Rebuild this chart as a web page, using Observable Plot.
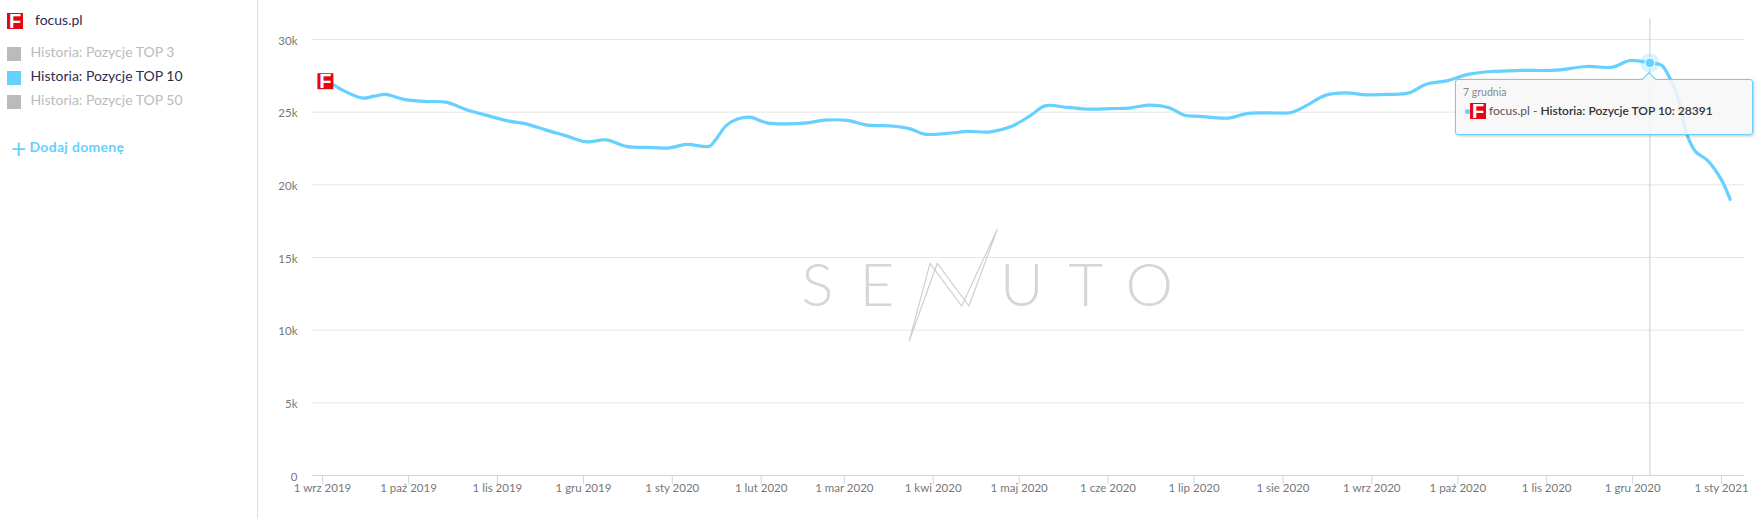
<!DOCTYPE html>
<html lang="pl">
<head>
<meta charset="utf-8">
<title>focus.pl – Historia: Pozycje TOP 10</title>
<script src="https://cdn.jsdelivr.net/npm/d3@7"></script>
<script src="https://cdn.jsdelivr.net/npm/@observablehq/plot@0.6"></script>
<style>
  html,body{margin:0;padding:0;background:#fff;overflow:hidden}
  #root{position:relative;width:1761px;height:518px;font-family:Lato,sans-serif;overflow:hidden}
  #root svg.plot{position:absolute;left:0;top:0}
  #side{position:absolute;left:0;top:0;width:257px;height:518px;border-right:1px solid #ddd}
  #side>*{position:absolute;white-space:nowrap}
  .ico{display:inline-block;width:16px;height:16px;background:#e30613;color:#fff;font:bold 20px/17px "Liberation Sans",sans-serif;text-align:center}
  .sw{width:14px;height:14px}
  .lab{font-size:14px;line-height:18px}
  #logo{position:absolute;left:0;top:0;pointer-events:none}
  #tip{position:absolute;box-sizing:border-box;background:rgba(247,247,247,.85);border:1.5px solid #66d0ff;border-radius:3px;box-shadow:1px 1px 3px rgba(0,0,0,.25)}
  #tip>*{position:absolute;white-space:nowrap}
  #arrow{width:9px;height:9px;background:#f7f7f7;border-left:1.5px solid #66d0ff;border-top:1.5px solid #66d0ff;transform:rotate(45deg)}
</style>
</head>
<body>
<div id="root"></div>
<script>
const dates = ["2019-09-02","2019-09-05","2019-09-08","2019-09-15","2019-09-19","2019-09-23","2019-09-29","2019-10-06","2019-10-14","2019-10-21","2019-10-28","2019-11-05","2019-11-11","2019-11-18","2019-11-25","2019-12-02","2019-12-09","2019-12-16","2019-12-23","2019-12-31","2020-01-06","2020-01-14","2020-01-16","2020-01-20","2020-01-24","2020-01-28","2020-02-03","2020-02-10","2020-02-17","2020-02-23","2020-03-02","2020-03-09","2020-03-17","2020-03-24","2020-03-29","2020-04-06","2020-04-13","2020-04-21","2020-04-28","2020-05-05","2020-05-10","2020-05-18","2020-05-25","2020-06-02","2020-06-09","2020-06-15","2020-06-22","2020-06-28","2020-07-03","2020-07-13","2020-07-19","2020-07-26","2020-08-04","2020-08-09","2020-08-16","2020-08-23","2020-08-30","2020-09-07","2020-09-14","2020-09-20","2020-09-27","2020-10-05","2020-10-13","2020-10-23","2020-11-04","2020-11-15","2020-11-24","2020-11-30","2020-12-07","2020-12-11","2020-12-14","2020-12-17","2020-12-20","2020-12-23","2020-12-27","2021-01-01","2021-01-04"];
const top10 = [27130,26858,26515,25964,26102,26218,25896,25737,25690,25187,24795,24382,24196,23763,23371,22958,23096,22642,22573,22546,22780,22662,23075,24107,24540,24657,24265,24196,24265,24451,24430,24107,24059,23853,23487,23535,23672,23646,23990,24773,25434,25324,25208,25242,25297,25483,25324,24773,24715,24589,24885,24954,24980,25434,26171,26329,26192,26218,26329,26927,27154,27615,27801,27870,27890,28144,28096,28557,28391,28233,27320,25827,23420,22270,21700,20324,18997];
const yTicks = [0,5000,10000,15000,20000,25000,30000];
const tickDates = ["2019-09-01","2019-10-01","2019-11-01","2019-12-01","2020-01-01","2020-02-01","2020-03-01","2020-04-01","2020-05-01","2020-06-01","2020-07-01","2020-08-01","2020-09-01","2020-10-01","2020-11-01","2020-12-01","2021-01-01"];
const tickLabels = ["1 wrz 2019","1 paź 2019","1 lis 2019","1 gru 2019","1 sty 2020","1 lut 2020","1 mar 2020","1 kwi 2020","1 maj 2020","1 cze 2020","1 lip 2020","1 sie 2020","1 wrz 2020","1 paź 2020","1 lis 2020","1 gru 2020","1 sty 2021"];
const domainName = "focus.pl";
const seriesNames = ["Historia: Pozycje TOP 3","Historia: Pozycje TOP 10","Historia: Pozycje TOP 50"];
const seriesActive = [false,true,false];
const hoverDate = "2020-12-07", hoverValue = 28391, hoverLabel = "7 grudnia";
const crosshairTop = 31400;

const BLUE = "#66d0ff";
const D = s => new Date(s + "T00:00:00Z");
const rows = dates.map((d,i)=>({date:D(d),value:top10[i]}));
const tickDs = tickDates.map(D);
const labelOf = new Map(tickDates.map((d,i)=>[+D(d),tickLabels[i]]));
const hover = [{date:D(hoverDate),value:hoverValue}];

const chart = Plot.plot({
  width:1761,height:518,
  marginLeft:312,marginRight:17,marginTop:39,marginBottom:43,
  style:{background:"transparent",fontFamily:"Lato, sans-serif",fontSize:"11.5px",color:"#777"},
  x:{type:"utc",domain:[new Date("2019-08-28T12:00:00Z"),new Date("2021-01-09T00:00:00Z")]},
  y:{domain:[0,30000]},
  marks:[
    Plot.ruleY(yTicks.slice(1),{stroke:"#e6e6e6",strokeWidth:1}),
    Plot.ruleY([0],{stroke:"#ccd6eb",strokeWidth:1}),
    Plot.ruleX(hover,{x:"date",y1:0,y2:crosshairTop,stroke:"#ccc",strokeWidth:1,clip:false}),
    Plot.axisY({ticks:yTicks,tickSize:0,tickPadding:15,label:null,fill:"#777",dy:1.5,tickFormat:d=>d?d/1000+"k":"0"}),
    Plot.axisX({ticks:tickDs,tickSize:9,tickPadding:-1,label:null,stroke:"#ccd6eb",fill:"#777",tickFormat:d=>labelOf.get(+d)}),
    Plot.line(rows,{x:"date",y:"value",stroke:BLUE,strokeWidth:3.2,curve:"catmull-rom"}),
    Plot.dot(hover,{x:"date",y:"value",r:9.7,fill:BLUE,fillOpacity:.25}),
    Plot.dot(hover,{x:"date",y:"value",r:4.8,fill:BLUE,stroke:"#fff",strokeWidth:1}),
    Plot.dot(rows.slice(0,1),{x:"date",y:"value",symbol:"square",r:9,fill:"#e30613"}),
    Plot.text(rows.slice(0,1),{x:"date",y:"value",text:()=>"F",fill:"#fff",fontWeight:"bold",fontSize:20,fontFamily:"Liberation Sans",dy:.5})
  ]
});
const root = document.getElementById("root");
root.appendChild(chart);

/* watermark */
const logoLetters = [["S",817.3],["E",877],["U",1021.7],["T",1085.7],["O",1149.3]];
const NS="http://www.w3.org/2000/svg";
const logo=document.createElementNS(NS,"svg");
logo.setAttribute("id","logo");logo.setAttribute("width",1761);logo.setAttribute("height",518);
logoLetters.forEach(([t,x])=>{
  const e=document.createElementNS(NS,"text");
  e.textContent=t;e.setAttribute("x",x);e.setAttribute("y",306);e.setAttribute("text-anchor","middle");
  e.setAttribute("font-family","Lato");e.setAttribute("font-weight","300");e.setAttribute("font-size","60");e.setAttribute("fill","#d6d6d6");
  logo.appendChild(e);
});
const bolt=document.createElementNS(NS,"polygon");
bolt.setAttribute("points","909.3,340.7 930,263.3 961.7,306 997.3,229.3 969,306 937.3,263.3");
bolt.setAttribute("fill","none");bolt.setAttribute("stroke","#cfcfcf");bolt.setAttribute("stroke-width","1.2");bolt.setAttribute("stroke-linejoin","round");
logo.appendChild(bolt);
root.appendChild(logo);

/* sidebar */
const side=document.createElement("div");side.id="side";
const add=(html,css,cls)=>{const e=document.createElement("div");e.innerHTML=html;e.style.cssText=css;if(cls)e.className=cls;side.appendChild(e);return e;};
add("F","left:7px;top:13px","ico");
add(domainName,"left:35px;top:11px;color:#2e2c4f","lab");
seriesNames.forEach((n,i)=>{
  const top=47+24*i;
  add("",`left:7px;top:${top}px;background:${seriesActive[i]?BLUE:"#bbb"}`,"sw");
  add(n,`left:30.5px;top:${top-4}px;color:${seriesActive[i]?"#2e2c4f":"#bbb"}`,"lab");
});
add("+",`left:11px;top:134px;color:${BLUE};font-size:26px;line-height:28px;font-weight:400`);
add("Dodaj domenę",`left:29.5px;top:139px;color:${BLUE};font-size:14px;line-height:16px;font-weight:700;letter-spacing:.3px`);
root.appendChild(side);

/* tooltip */
const hx=chart.scale("x").apply(hover[0].date);
const tip=document.createElement("div");tip.id="tip";
tip.style.cssText="left:1455px;top:79px;width:298px;height:55.5px";
tip.innerHTML=`<div id="arrow" style="left:${hx-1455-6}px;top:-6px"></div>
<div style="left:7px;top:5px;font-size:10.5px;line-height:14px;color:#888">${hoverLabel}</div>
<div style="left:8.5px;top:28.5px;width:5px;height:5px;border-radius:50%;background:${BLUE}"></div>
<span class="ico" style="left:14px;top:23px">F</span>
<div style="left:33px;top:23px;font-size:12px;line-height:16px;color:#555">${domainName} - <b style="color:#333;font-weight:600">${seriesNames[1]}: ${hoverValue}</b></div>`;
root.appendChild(tip);
</script>
</body>
</html>
